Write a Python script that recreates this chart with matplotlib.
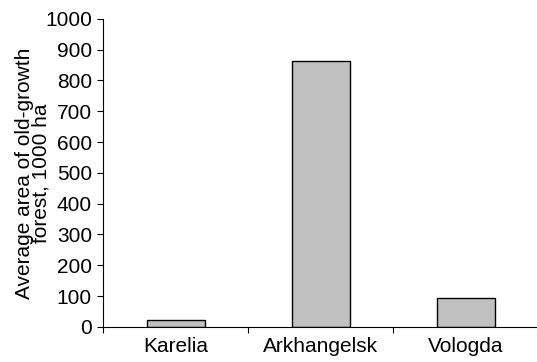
import matplotlib
matplotlib.use("Agg")
import matplotlib.pyplot as plt
import numpy as np

regions = ["Karelia", "Arkhangelsk", "Vologda"]
area = [22, 864, 94]
y_ticks = list(range(0, 1001, 100))

plt.rcParams["font.family"] = ["Liberation Sans", "DejaVu Sans"]

fig = plt.figure(figsize=(5.37, 3.62), dpi=100)
ax = fig.add_axes([0.192, 0.097, 0.81, 0.851])

x = np.arange(len(regions))
ax.bar(x, area, width=0.4, color="#c0c0c0", edgecolor="black", linewidth=1.0)

ax.set_xlim(-0.5, len(regions) - 0.5)
ax.set_ylim(0, 1000)
ax.set_yticks(y_ticks)
ax.tick_params(axis="y", labelsize=15, length=4, width=0.8, pad=4)

ax.set_xticks(x)
ax.set_xticklabels(regions, fontsize=15)
ax.tick_params(axis="x", which="major", length=0, pad=7)
ax.set_xticks(np.arange(-0.5, len(regions)), minor=True)
ax.tick_params(axis="x", which="minor", length=4, width=0.8)

for side in ["top", "right"]:
    ax.spines[side].set_visible(False)
ax.spines["left"].set_linewidth(0.8)
ax.spines["bottom"].set_linewidth(0.8)

ax.set_ylabel("Average area of old-growth\nforest, 1000 ha", fontsize=15,
              linespacing=0.85, labelpad=-4)

fig.savefig("out.png", dpi=100)
